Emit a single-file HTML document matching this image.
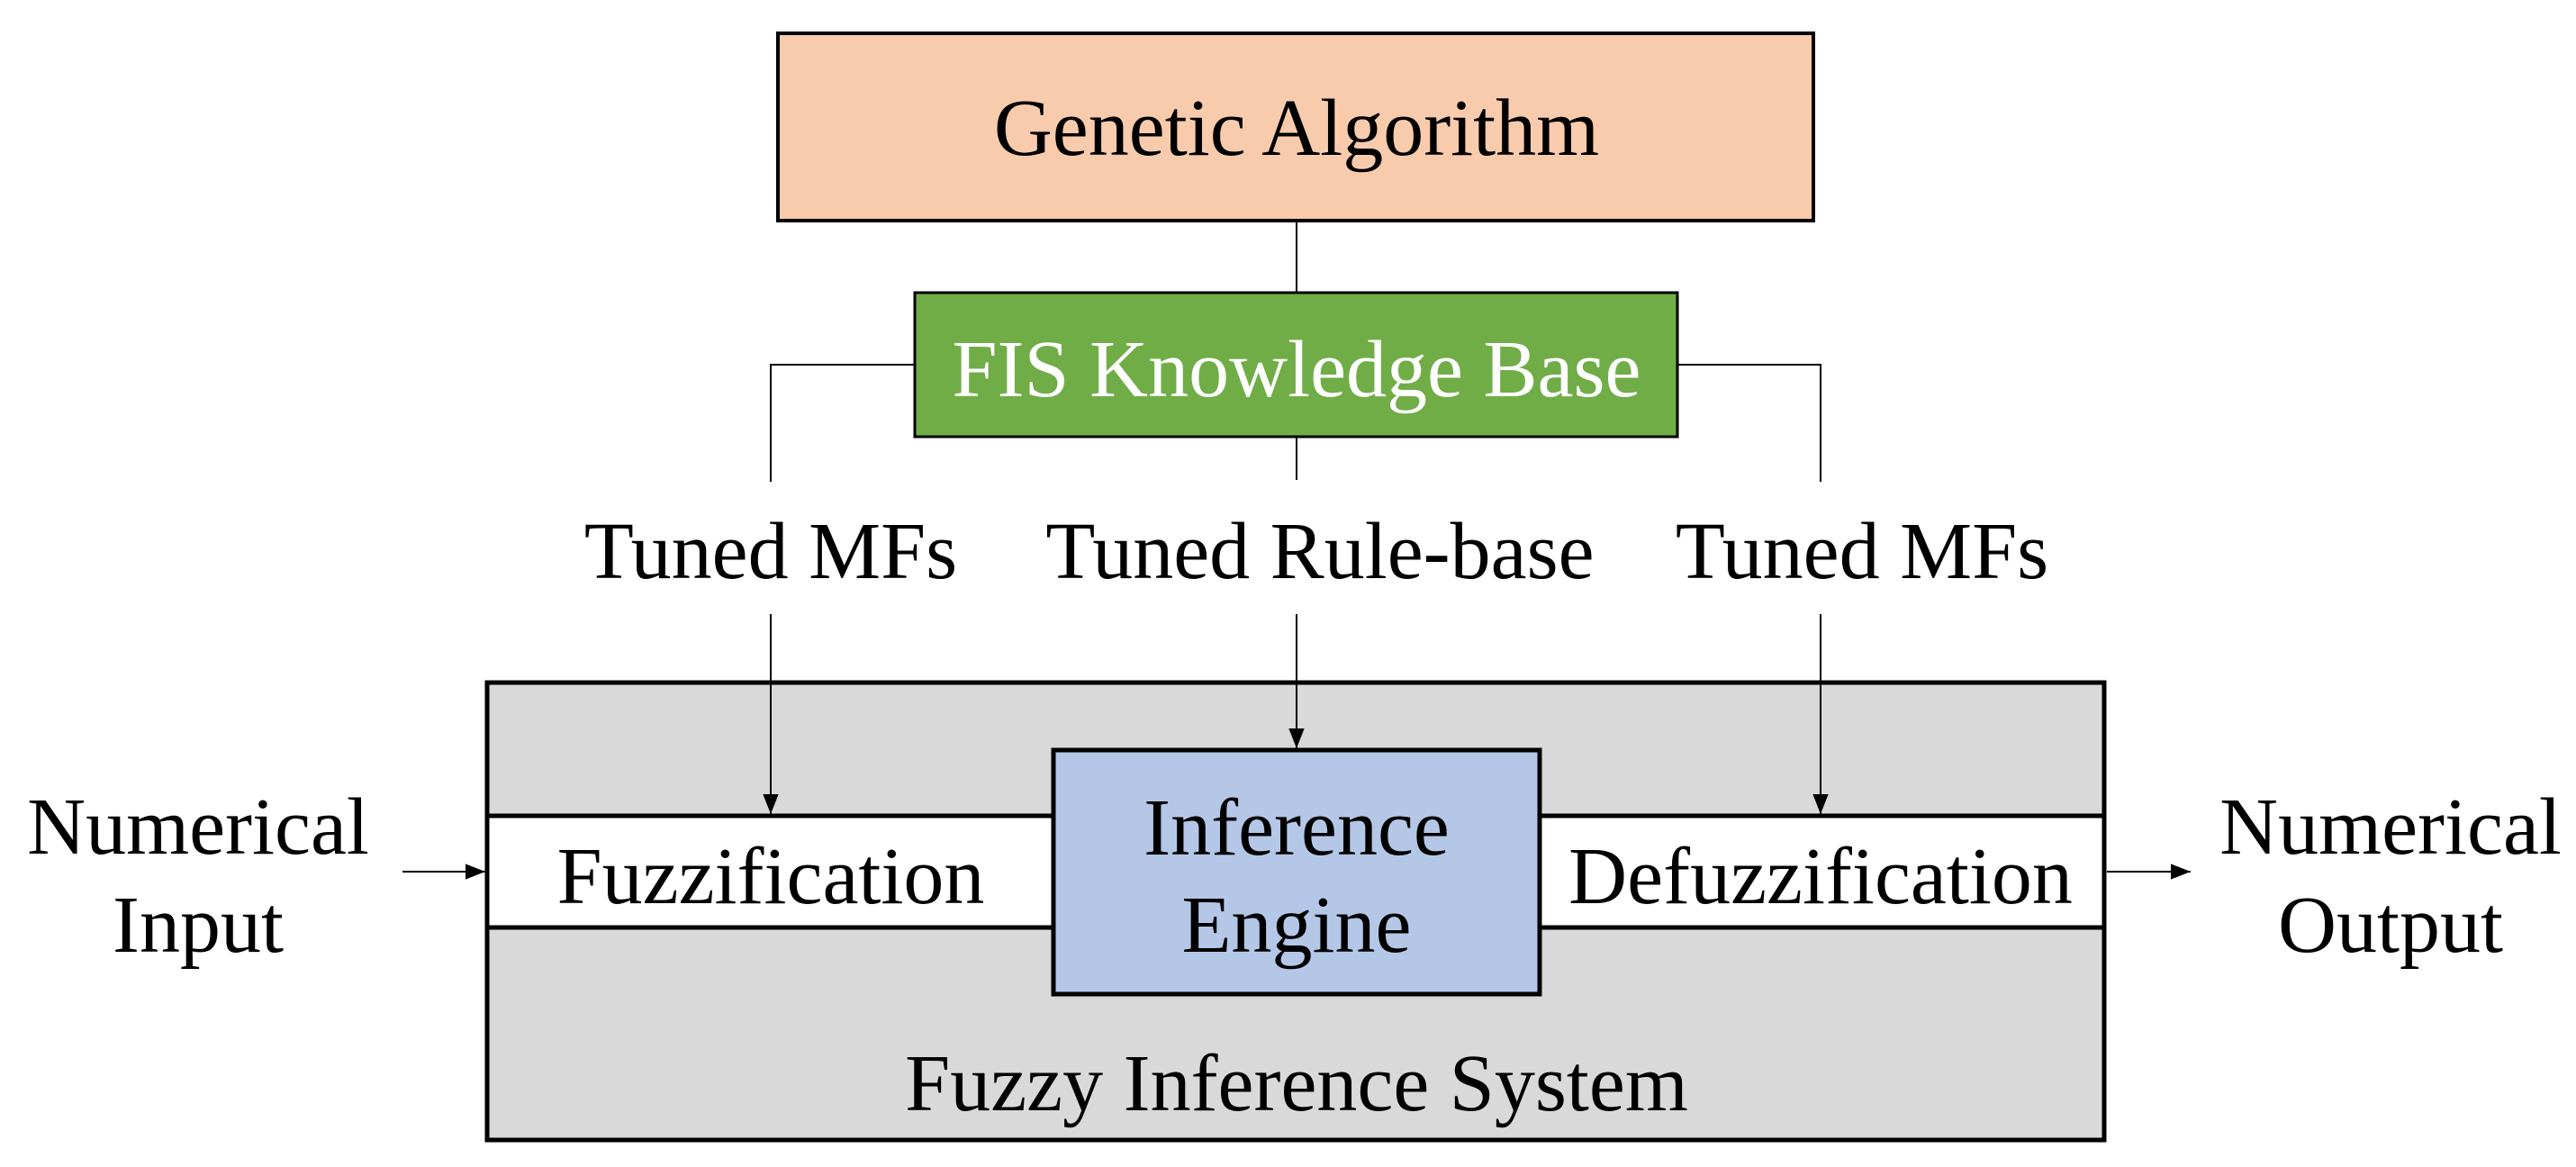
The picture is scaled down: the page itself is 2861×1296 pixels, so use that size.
<!DOCTYPE html>
<html><head><meta charset="utf-8"><style>html,body{margin:0;padding:0;background:#fff}svg{display:block}</style></head>
<body>
<svg width="2861" height="1296" viewBox="0 0 2861 1296" xmlns="http://www.w3.org/2000/svg" font-family="'Liberation Serif', serif" font-size="90">
<defs>
<marker id="b" markerWidth="22" markerHeight="28" refX="28" refY="11" orient="auto" markerUnits="userSpaceOnUse" viewBox="0 0 28 22"><path d="M0,0 L28,11 L0,22 z" fill="#000"/></marker></defs>
<rect x="864" y="37" width="1150" height="208" fill="#f8cbad" stroke="#000" stroke-width="4"/>
<text x="1440" y="172" text-anchor="middle">Genetic Algorithm</text>
<line x1="1440" y1="245" x2="1440" y2="325" stroke="#000" stroke-width="2"/>
<rect x="1016" y="325" width="847" height="160" fill="#70ad47" stroke="#000" stroke-width="3"/>
<text x="1440" y="440" text-anchor="middle" fill="#fff">FIS Knowledge Base</text>
<polyline points="1016,405 856,405 856,535" fill="none" stroke="#000" stroke-width="2"/>
<polyline points="1863,405 2022,405 2022,535" fill="none" stroke="#000" stroke-width="2"/>
<line x1="1440" y1="485" x2="1440" y2="533" stroke="#000" stroke-width="2"/>
<text x="856" y="642" text-anchor="middle">Tuned MFs</text>
<text x="1466" y="642" text-anchor="middle">Tuned Rule-base</text>
<text x="2068" y="642" text-anchor="middle">Tuned MFs</text>
<rect x="541" y="758" width="1796" height="508" fill="#d9d9d9" stroke="#000" stroke-width="5"/>
<rect x="541" y="906" width="1796" height="124" fill="#fff" stroke="#000" stroke-width="5"/>
<rect x="1170" y="833" width="540" height="271" fill="#b4c7e7" stroke="#000" stroke-width="5"/>
<line x1="856" y1="682" x2="856" y2="904" stroke="#000" stroke-width="2" marker-end="url(#b)"/>
<line x1="2022" y1="682" x2="2022" y2="904" stroke="#000" stroke-width="2" marker-end="url(#b)"/>
<line x1="1440" y1="682" x2="1440" y2="831" stroke="#000" stroke-width="2" marker-end="url(#b)"/>
<text x="856" y="1003" text-anchor="middle">Fuzzification</text>
<text x="2022" y="1003" text-anchor="middle">Defuzzification</text>
<text x="1440" y="949" text-anchor="middle">Inference</text>
<text x="1440" y="1057" text-anchor="middle">Engine</text>
<text x="1440" y="1233" text-anchor="middle">Fuzzy Inference System</text>
<text x="220" y="948" text-anchor="middle">Numerical</text>
<text x="220" y="1057" text-anchor="middle">Input</text>
<text x="2655" y="948" text-anchor="middle">Numerical</text>
<text x="2655" y="1057" text-anchor="middle">Output</text>
<line x1="447" y1="968" x2="539" y2="968" stroke="#000" stroke-width="2" marker-end="url(#b)"/>
<line x1="2340" y1="968" x2="2433" y2="968" stroke="#000" stroke-width="2" marker-end="url(#b)"/>
</svg>
</body></html>
